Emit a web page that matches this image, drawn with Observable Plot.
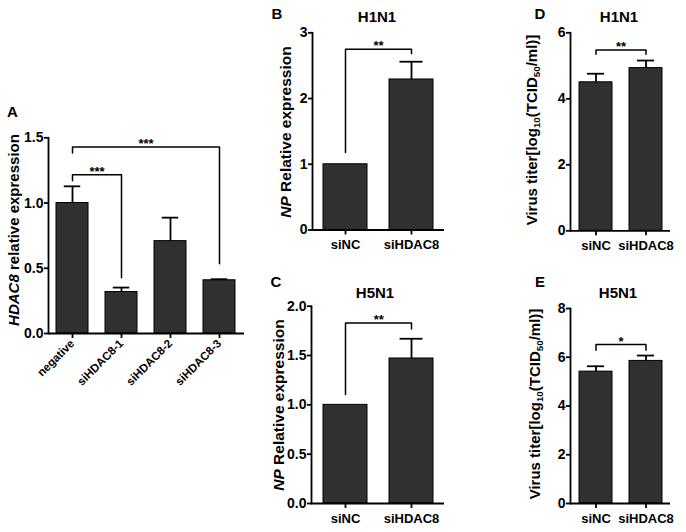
<!DOCTYPE html>
<html><head><meta charset="utf-8">
<script src="https://cdn.jsdelivr.net/npm/d3@7"></script>
<script src="https://cdn.jsdelivr.net/npm/@observablehq/plot@0.6"></script>
<style>
body{margin:0;background:#fff;}
#fig{position:relative;width:686px;height:532px;overflow:hidden;font-family:"Liberation Sans",Arial,sans-serif;font-weight:bold;color:#000;background:#fff;}
.panel{position:absolute;}
#overlay{position:absolute;left:0;top:0;}
</style></head><body><div id="fig"></div>
<script>
// ---- data ----
const catsA = ["negative", "siHDAC8-1", "siHDAC8-2", "siHDAC8-3"];
const meanA = [1.0, 0.318, 0.708, 0.408];
const errA  = [0.128, 0.034, 0.18, 0.008];
const ticksA = [0, 0.5, 1.0, 1.5];
const sigA = [
  {from: "negative", to: "siHDAC8-1", y: 1.217, yFrom: 1.17, yTo: 0.427, label: "***"},
  {from: "negative", to: "siHDAC8-3", y: 1.43, yFrom: 1.383, yTo: 0.534, label: "***"}
];

const catsSi = ["siNC", "siHDAC8"];

const meanB = [1.0, 2.29];
const errB  = [0, 0.27];
const ticksB = [0, 1, 2, 3];
const sigB = [{from: "siNC", to: "siHDAC8", y: 2.75, yFrom: 1.18, yTo: 2.68, label: "**"}];

const meanC = [1.0, 1.47];
const errC  = [0, 0.20];
const ticksC = [0, 0.5, 1.0, 1.5, 2.0];
const sigC = [{from: "siNC", to: "siHDAC8", y: 1.83, yFrom: 1.105, yTo: 1.77, label: "**"}];

const meanD = [4.50, 4.93];
const errD  = [0.26, 0.23];
const ticksD = [0, 2, 4, 6];
const sigD = [{from: "siNC", to: "siHDAC8", y: 5.48, yFrom: 5.35, yTo: 5.35, label: "**"}];

const meanE = [5.41, 5.85];
const errE  = [0.22, 0.22];
const ticksE = [0, 2, 4, 6, 8];
const sigE = [{from: "siNC", to: "siHDAC8", y: 6.52, yFrom: 6.29, yTo: 6.29, label: "*"}];

// ---- drawing ----
const fig = document.getElementById("fig");
const PI = 0.34, PO = 0.17;
const FONT = '"Liberation Sans", Arial, sans-serif';

function panel(cfg) {
  const {cats, means, errs, yMax, yTicks, yFormat, sig, left, top, width, height, ml, mr, mt, mb, rotate} = cfg;
  const data = cats.map((c, i) => ({cat: c, mean: means[i], err: errs[i], top: means[i] + errs[i]}));
  const withErr = data.filter(d => d.err > 0);
  const step = (width - ml - mr) / (cats.length - PI + 2 * PO);
  const bw = step * (1 - PI);
  const capInset = bw * 0.24;
  const marks = [
    Plot.barY(data, {x: "cat", y: "mean", fill: "#303030", stroke: "#000", strokeWidth: 1}),
    Plot.ruleX(withErr, {x: "cat", y1: "mean", y2: "top", stroke: "#000", strokeWidth: 1.8}),
    Plot.tickY(withErr, {x: "cat", y: "top", stroke: "#000", strokeWidth: 1.8, insetLeft: capInset, insetRight: capInset}),
    Plot.ruleY([0], {stroke: "#000", strokeWidth: 1.8}),
    Plot.frame({anchor: "left", stroke: "#000", strokeWidth: 1.8}),
    Plot.axisY({ticks: yTicks, tickFormat: yFormat, tickSize: 4, tickPadding: 1, fontSize: 14, strokeWidth: 1.8, label: null}),
    rotate
      ? Plot.axisX({tickRotate: -45, tickSize: 5, tickPadding: 3, fontSize: 11.5, strokeWidth: 1.8, label: null})
      : Plot.axisX({tickSize: 5, tickPadding: 5, fontSize: 13, strokeWidth: 1.8, label: null})
  ];
  sig.forEach(b => {
    const pts = [
      {x: b.from, y: b.yFrom}, {x: b.from, y: b.y},
      {x: b.to, y: b.y}, {x: b.to, y: b.yTo}
    ];
    marks.push(Plot.line(pts, {x: "x", y: "y", stroke: "#000", strokeWidth: 1.5, curve: "linear"}));
    const span = cats.indexOf(b.to) - cats.indexOf(b.from);
    marks.push(Plot.text([b], {x: "from", y: "y", text: "label", dx: step * span / 2, dy: -3, lineAnchor: "middle", fontSize: 13, fontWeight: "bold", fill: "#000"}));
  });
  const p = Plot.plot({
    width, height,
    marginLeft: ml, marginRight: mr, marginTop: mt, marginBottom: mb,
    x: {type: "band", domain: cats, paddingInner: PI, paddingOuter: PO, align: 0.5, axis: null},
    y: {domain: [0, yMax], nice: false, axis: null},
    style: {fontFamily: FONT, fontSize: "14px", fontWeight: "bold", color: "#000", background: "transparent", overflow: "visible"},
    marks
  });
  const wrap = document.createElement("div");
  wrap.className = "panel";
  wrap.style.left = left + "px";
  wrap.style.top = top + "px";
  wrap.appendChild(p);
  fig.appendChild(wrap);
}

const f1 = d3.format(".1f"), f0 = d3.format("d");

panel({cats: catsA, means: meanA, errs: errA, yMax: 1.5, yTicks: ticksA, yFormat: f1, sig: sigA,
  left: 0, top: 110, width: 250, height: 320, ml: 48, mr: 6, mt: 27.3, mb: 97, rotate: true});
panel({cats: catsSi, means: meanB, errs: errB, yMax: 3, yTicks: ticksB, yFormat: f0, sig: sigB,
  left: 262, top: 0, width: 190, height: 270, ml: 50, mr: 8, mt: 32.3, mb: 40.5});
panel({cats: catsSi, means: meanC, errs: errC, yMax: 2, yTicks: ticksC, yFormat: f1, sig: sigC,
  left: 262, top: 270, width: 190, height: 262, ml: 49, mr: 8, mt: 35.7, mb: 29});
panel({cats: catsSi, means: meanD, errs: errD, yMax: 6, yTicks: ticksD, yFormat: f0, sig: sigD,
  left: 530, top: 0, width: 156, height: 270, ml: 40, mr: 16, mt: 32.3, mb: 39.7});
panel({cats: catsSi, means: meanE, errs: errE, yMax: 8, yTicks: ticksE, yFormat: f0, sig: sigE,
  left: 530, top: 270, width: 156, height: 262, ml: 40, mr: 16, mt: 38, mb: 29});

// ---- labels (SVG overlay) ----
const ov = d3.select(fig).append("svg").attr("id", "overlay")
  .attr("width", 686).attr("height", 532)
  .attr("font-family", FONT).attr("font-weight", "bold").attr("fill", "#000");

const letters = [["A", 12.5, 112], ["B", 277, 14], ["C", 276, 282], ["D", 540, 14], ["E", 540, 282]];
letters.forEach(([t, x, y]) => ov.append("text").attr("x", x).attr("y", y).attr("dy", "0.35em")
  .attr("text-anchor", "middle").attr("font-size", 15).text(t));
const titles = [["H1N1", 377, 17], ["H5N1", 375, 293], ["H1N1", 619, 17], ["H5N1", 618, 293]];
titles.forEach(([t, x, y]) => ov.append("text").attr("x", x).attr("y", y).attr("dy", "0.35em")
  .attr("text-anchor", "middle").attr("font-size", 15).text(t));

const yLabA = [["HDAC8", "i"], [" relative expression", ""]];
const yLabNP = [["NP", "i"], [" Relative expression", ""]];
const yLabVir = [["Virus titer[log", ""], ["10", "sub"], ["(TCID", ""], ["50", "sub"], ["/ml)]", ""]];
function ylab(parts, x, y, size) {
  const t = ov.append("text").attr("transform", `translate(${x},${y}) rotate(-90)`)
    .attr("text-anchor", "middle").attr("dy", "0.35em").attr("font-size", size);
  let shifted = false;
  parts.forEach(([s, k]) => {
    const ts = t.append("tspan").text(s);
    if (k === "i") ts.attr("font-style", "italic");
    if (k === "sub") { ts.attr("font-size", size * 0.65).attr("dy", size * 0.2); shifted = true; }
    else if (shifted) { ts.attr("dy", -size * 0.2); shifted = false; }
  });
}
ylab(yLabA, 14, 230, 15);
ylab(yLabNP, 286, 132, 15.5);
ylab(yLabNP, 278.5, 405, 15.5);
ylab(yLabVir, 532, 130, 15);
ylab(yLabVir, 535, 404, 15);
</script>
</body></html>
